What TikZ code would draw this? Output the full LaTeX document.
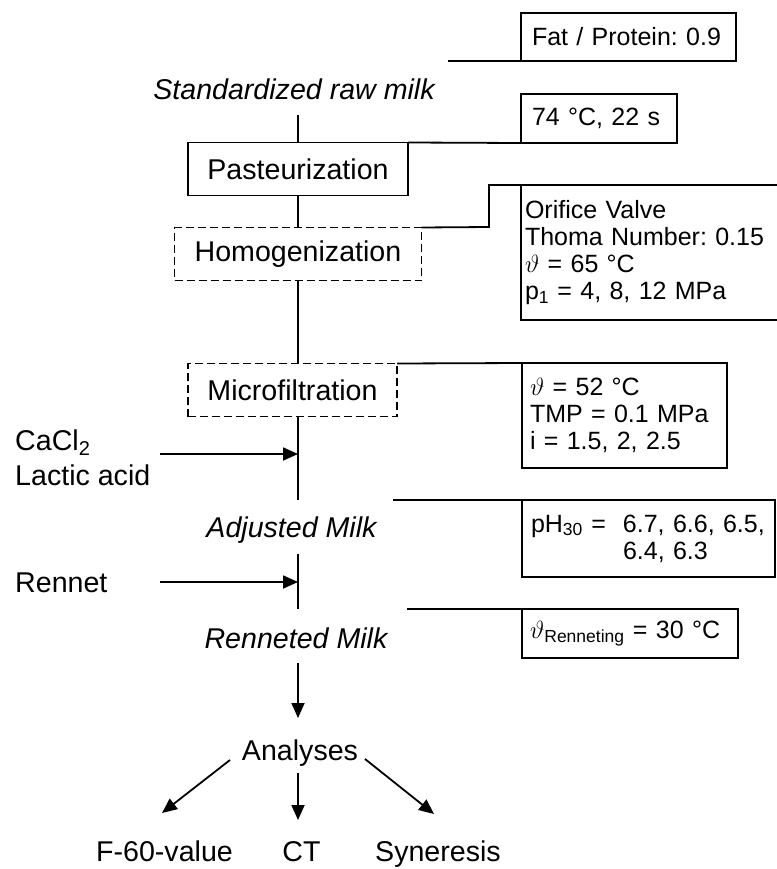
\documentclass[tikz,border=0pt]{standalone}
\usepackage{fontspec}
\setmainfont{Liberation Sans}
\usetikzlibrary{arrows.meta}
\frenchspacing
\newcommand\flowsize{\fontsize{28.6}{33}\selectfont}
\newcommand\infosize{\fontsize{25}{27}\selectfont\frenchspacing}
\begin{document}
\begin{tikzpicture}[x=1pt,y=-1pt,
  ln/.style={line width=1.8pt},
  vln/.style={line width=1.5pt},
  arr/.style={line width=1.8pt,-{Triangle[length=15pt,width=13pt]}},
  flow/.style={font=\flowsize, inner sep=0pt},
  flowit/.style={font=\flowsize\itshape, inner sep=0pt},
  procbox/.style={draw, line width=1.8pt, font=\flowsize, minimum width=#1, minimum height=53pt, inner sep=0pt, outer sep=0pt},
  dashbox/.style={procbox=#1, dash pattern=on 8pt off 4pt},
  infobox/.style n args={4}{draw, line width=1.8pt, font=\infosize, anchor=north west, align=left,
     minimum width=#1, minimum height=#2, inner xsep=#3, inner ysep=0pt, outer sep=0pt, text width=#4}
]
\useasboundingbox (0,0) rectangle (776,869);

% main flow
\node[flowit, anchor=base] (std) at (294,100) {Standardized raw milk};
\node[procbox=220pt] (past) at (298,169) {Pasteurization};
\node[dashbox=247pt] (homog) at (298,254) {Homogenization};
\node[dashbox=209pt] (micro) at (292.5,390) {Microfiltration};
\node[flowit, anchor=base] (adj) at (291.5,537) {Adjusted Milk};
\node[flowit, anchor=base] (renn) at (296,648) {Renneted Milk};
\node[flow, anchor=base] (anal) at (300,760) {Analyses};
\node[flow, anchor=base] (f60) at (164.5,861) {F-60-value};
\node[flow, anchor=base] (ct) at (301.5,861) {CT};
\node[flow, anchor=base] (syn) at (438,861) {Syneresis};

% side inputs
\node[flow, anchor=base west] (cacl) at (15,450) {CaCl\textsubscript{2}};
\node[flow, anchor=base west] (lact) at (15,485) {Lactic acid};
\node[flow, anchor=base west] (rennet) at (15,592) {Rennet};

% info boxes
\node[infobox={215pt}{48pt}{11pt}{193pt}] (fatbox) at (521,13) {Fat / Protein: 0.9};
\node[infobox={156pt}{49pt}{11pt}{134pt}] (pastbox) at (521,94) {74 °C, 22 s};
\node[infobox={290pt}{135pt}{4pt}{282pt}] (orif) at (521,185)
  {Orifice Valve\\Thoma Number: 0.15\\$\vartheta$ = 65 °C\\p\textsubscript{1} = 4, 8, 12 MPa};
\node[infobox={205pt}{105pt}{8pt}{189pt}] (mfbox) at (522,363)
  {$\vartheta$ = 52 °C\\TMP = 0.1 MPa\\i = 1.5, 2, 2.5};
\node[infobox={253pt}{77pt}{9pt}{235pt}] (phbox) at (522,500)
  {\makebox[92pt][l]{pH\textsubscript{30} =}6.7, 6.6, 6.5,\\\hspace*{92pt}6.4, 6.3};
\node[infobox={216pt}{49pt}{8pt}{200pt}] (renbox) at (522,609)
  {$\vartheta$\textsubscript{Renneting} = 30 °C};

% coordinates for free ends
\coordinate (stdend) at (298,115);
\coordinate (fatln) at (448,61);
\coordinate (hk) at (489,227);
\coordinate (adjtop) at (298,500);
\coordinate (adjln) at (393,500);
\coordinate (adjbot) at (298,554);
\coordinate (renntop) at (298,609);
\coordinate (rennln) at (407,609);
\coordinate (rennbot) at (298,663);
\coordinate (analtop) at (298,718);
\coordinate (caclA) at (160,454);
\coordinate (caclB) at (298,454);
\coordinate (rennetA) at (160,582);
\coordinate (rennetB) at (298,582);
\coordinate (aL1) at (230,760);
\coordinate (aL2) at (162,813);
\coordinate (aM1) at (298,773);
\coordinate (aM2) at (298,820);
\coordinate (aR1) at (365,759);
\coordinate (aR2) at (434,814);

% connectors
\draw[ln] (fatln) -- (fatbox.south west);
\draw[vln] (stdend) -- (past.north);
\draw[ln] (past.north east) -- (pastbox.south west);
\draw[vln] (past.south) -- (homog.north);
\draw[ln] (homog.north east) -- (hk) |- (orif.north west);
\draw[vln] (homog.south) -- (homog.south |- micro.north);
\draw[ln] (micro.north east) -- (mfbox.north west);
\draw[vln] (adjtop |- micro.south) -- (adjtop);
\draw[ln] (adjln) -- (phbox.north west);
\draw[vln] (adjbot) -- (renntop);
\draw[ln] (rennln) -- (renbox.north west);
\draw[arr] (rennbot) -- (analtop);
\draw[arr] (caclA) -- (caclB);
\draw[arr] (rennetA) -- (rennetB);
\draw[arr] (aL1) -- (aL2);
\draw[arr] (aM1) -- (aM2);
\draw[arr] (aR1) -- (aR2);
\end{tikzpicture}
\end{document}
